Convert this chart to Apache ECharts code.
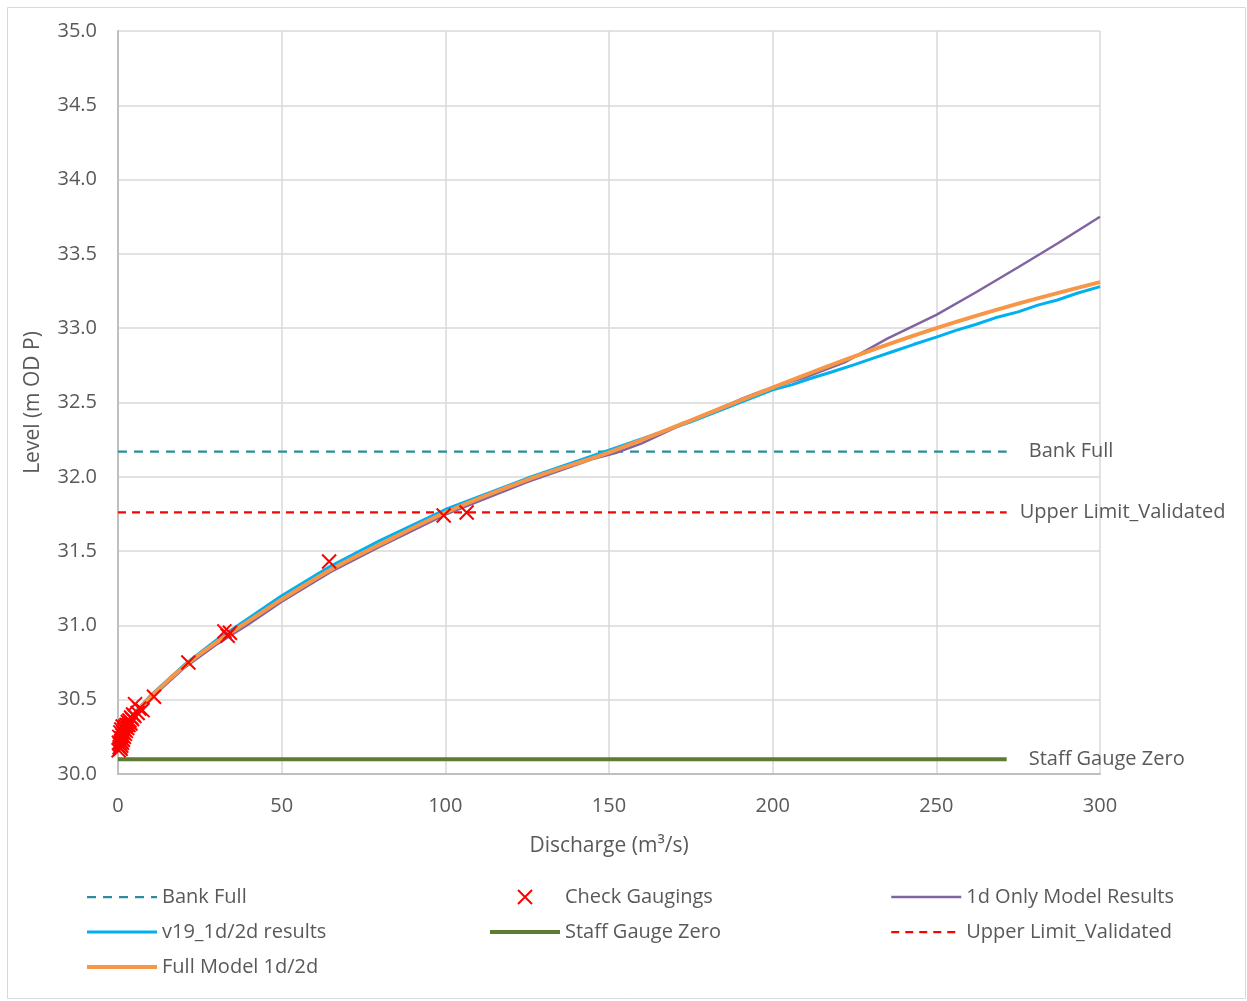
<!DOCTYPE html>
<html><head><meta charset="utf-8">
<script src="https://cdn.jsdelivr.net/npm/echarts@6/dist/echarts.min.js"></script>
<style>html,body{margin:0;padding:0;background:#fff}#c{width:1247px;height:1001px}</style>
</head><body><div id="c"></div>
<script>
var xTicks = [0, 50, 100, 150, 200, 250, 300];
var yTicks = [30.0, 30.5, 31.0, 31.5, 32.0, 32.5, 33.0, 33.5, 34.0, 34.5, 35.0];

var bankFull = [[0, 32.17], [271.5, 32.17]];
var upperLimit = [[0, 31.76], [271.5, 31.76]];
var staffGaugeZero = [[0, 30.1], [271.5, 30.1]];

var v19Results = [[3,30.34],[5,30.41],[10,30.53],[20,30.73],[30,30.9],[40,31.05],[50,31.2],[65,31.4],[80,31.57],[100,31.78],[125,31.99],[150,32.18],[175,32.37],[190,32.5],[200,32.585],[206,32.62],[212,32.665],[218,32.705],[225,32.755],[231,32.8],[237,32.845],[243,32.89],[250,32.94],[256,32.985],[262,33.025],[268,33.07],[275,33.11],[281,33.155],[287,33.19],[293,33.235],[300,33.28]];
var fullModel = [[3,30.33],[5,30.4],[10,30.52],[20,30.72],[30,30.885],[40,31.03],[50,31.175],[65,31.375],[80,31.545],[100,31.76],[125,31.98],[150,32.165],[175,32.38],[200,32.6],[225,32.81],[250,33.0],[275,33.165],[300,33.31]];
var oneDOnly = [[3,30.33],[5,30.39],[10,30.51],[20,30.71],[30,30.87],[40,31.01],[50,31.16],[65,31.36],[80,31.53],[100,31.745],[125,31.965],[145,32.12],[152,32.16],[160,32.225],[175,32.38],[190,32.52],[197,32.58],[210,32.67],[222,32.77],[235,32.93],[250,33.09],[262,33.24],[275,33.41],[287,33.57],[300,33.75]];
var checkGaugings = [[0.2,30.16],[0.3,30.21],[0.5,30.18],[0.4,30.25],[0.6,30.2],[0.7,30.28],[0.8,30.17],[0.9,30.22],[1.0,30.19],[1.0,30.3],[1.1,30.24],[1.2,30.21],[1.3,30.26],[1.4,30.32],[1.5,30.23],[1.6,30.28],[1.8,30.25],[1.9,30.3],[2.1,30.27],[2.2,30.32],[2.4,30.29],[2.6,30.33],[2.8,30.31],[3.0,30.35],[3.2,30.33],[3.5,30.36],[3.8,30.34],[4.0,30.38],[4.3,30.37],[4.6,30.4],[5.0,30.39],[5.2,30.47],[6.0,30.41],[6.5,30.44],[7.5,30.43],[11,30.52],[21.5,30.75],[32.5,30.96],[33.5,30.93],[34.2,30.95],[64.5,31.43],[99.5,31.74],[106.5,31.76]];

var FONT = '"Open Sans", "Noto Sans", sans-serif';
var TXT = '#595959';
var xPath = 'path://M0,0L10,10M10,0L0,10';

var chart = echarts.init(document.getElementById('c'), null, {renderer: 'canvas'});
var legendBase = {
  orient: 'vertical', itemWidth: 70, itemHeight: 14, itemGap: 15, top: 887, height: 110, padding: 0,
  textStyle: {color: TXT, fontSize: 20, lineHeight: 20, fontFamily: FONT},
  itemStyle: {opacity: 0}
};
function endLbl(text, dist) {
  return {show: true, distance: dist, formatter: text, color: TXT, fontSize: 20, fontFamily: FONT};
}
function lg(name, w) { return {name: name, lineStyle: {width: w}}; }
chart.setOption({
  animation: false,
  backgroundColor: '#fff',
  graphic: [{type: 'rect', shape: {x: 7.5, y: 7.5, width: 1238, height: 991}, style: {fill: 'none', stroke: '#D9D9D9', lineWidth: 1}, silent: true, z: -1}],
  grid: {left: 118, top: 31, right: 147, bottom: 227, containLabel: false},
  xAxis: {
    type: 'value', min: 0, max: 300, interval: 50,
    name: 'Discharge (m³/s)', nameLocation: 'middle', nameGap: 62,
    nameTextStyle: {color: TXT, fontSize: 21, fontFamily: FONT},
    axisLine: {show: true, lineStyle: {color: '#BFBFBF', width: 2}},
    axisTick: {show: false},
    axisLabel: {color: TXT, fontSize: 20, fontFamily: FONT, margin: 22,
      formatter: function (v) { return xTicks.indexOf(v) >= 0 ? String(v) : ''; }},
    splitLine: {show: true, lineStyle: {color: '#D9D9D9', width: 1.5}}
  },
  yAxis: {
    type: 'value', min: 30, max: 35, interval: 0.5,
    name: 'Level (m OD P)', nameLocation: 'middle', nameGap: 74, nameRotate: 90,
    nameTextStyle: {color: TXT, fontSize: 21, fontFamily: FONT},
    axisLine: {show: true, lineStyle: {color: '#BFBFBF', width: 2}},
    axisTick: {show: false},
    axisLabel: {color: TXT, fontSize: 20, fontFamily: FONT, margin: 21,
      formatter: function (v) { var t = yTicks.filter(function (k) { return Math.abs(k - v) < 1e-6; }); return t.length ? t[0].toFixed(1) : ''; }},
    splitLine: {show: true, lineStyle: {color: '#D9D9D9', width: 1.5}}
  },
  legend: [
    Object.assign({}, legendBase, {left: 85, data: [lg('Bank Full', 2.25), lg('v19_1d/2d results', 3), lg('Full Model 1d/2d', 4)]}),
    Object.assign({}, legendBase, {left: 488, data: [{name: 'Check Gaugings', icon: xPath, itemStyle: {opacity: 1, color: 'rgba(0,0,0,0)', borderColor: '#FF0000', borderWidth: 2}}, lg('Staff Gauge Zero', 4)]}),
    Object.assign({}, legendBase, {left: 890, data: [lg('1d Only Model Results', 2.5), lg('Upper Limit_Validated', 2.25)]})
  ],
  series: [
    {name: 'Staff Gauge Zero', type: 'line', data: staffGaugeZero, symbol: 'none', lineStyle: {color: '#5F7A32', width: 4}, itemStyle: {color: '#5F7A32'},
      endLabel: endLbl('Staff Gauge Zero', 22), z: 2},
    {name: 'Bank Full', type: 'line', data: bankFull, symbol: 'none', lineStyle: {color: '#2E8B9E', width: 2.25, type: [9, 7]}, itemStyle: {color: '#2E8B9E'},
      endLabel: endLbl('Bank Full', 22), z: 2},
    {name: 'Upper Limit_Validated', type: 'line', data: upperLimit, symbol: 'none', lineStyle: {color: '#FF0000', width: 2.25, type: [8, 6]}, itemStyle: {color: '#FF0000'},
      endLabel: endLbl('Upper Limit_Validated', 13), z: 2},
    {name: 'v19_1d/2d results', type: 'line', data: v19Results, symbol: 'none', lineStyle: {color: '#00B0F0', width: 3}, itemStyle: {color: '#00B0F0'}, z: 3},
    {name: '1d Only Model Results', type: 'line', data: oneDOnly, symbol: 'none', lineStyle: {color: '#8064A2', width: 2.5}, itemStyle: {color: '#8064A2'}, z: 4},
    {name: 'Full Model 1d/2d', type: 'line', data: fullModel, symbol: 'none', smooth: 0.3, lineStyle: {color: '#F79646', width: 4}, itemStyle: {color: '#F79646'}, z: 5},
    {name: 'Check Gaugings', type: 'scatter', data: checkGaugings, symbol: xPath, symbolSize: 14,
      itemStyle: {color: 'rgba(0,0,0,0)', borderColor: '#FF0000', borderWidth: 2, opacity: 1}, z: 6}
  ]
});
</script></body></html>
